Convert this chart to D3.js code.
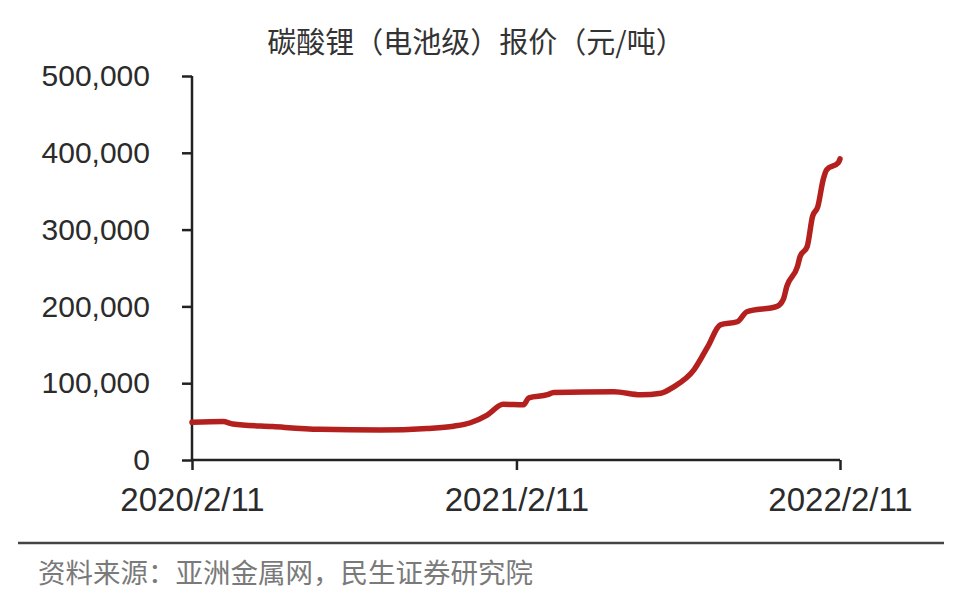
<!DOCTYPE html>
<html>
<head>
<meta charset="utf-8">
<script src="https://cdn.jsdelivr.net/npm/d3@7/dist/d3.min.js"></script>
<style>
  html, body { margin: 0; padding: 0; background: #fff; }
  svg { display: block; }
</style>
</head>
<body>
<svg id="chart" width="953" height="604"></svg>
<script>
// ---- Data ----
const titleText = "碳酸锂（电池级）报价（元/吨）";
const sourceText = "资料来源：亚洲金属网，民生证券研究院";
const dates = [
  "2020-02-11","2020-03-17","2020-03-28","2020-05-12","2020-07-04","2020-09-10",
  "2020-11-02","2020-12-02","2020-12-21","2021-01-09","2021-01-27","2021-02-19",
  "2021-02-25","2021-03-18","2021-03-25","2021-06-01","2021-07-01","2021-07-24",
  "2021-08-07","2021-08-30","2021-09-15","2021-09-29","2021-10-18","2021-10-29",
  "2021-12-02","2021-12-09","2021-12-13","2021-12-25","2021-12-28","2022-01-05",
  "2022-01-11","2022-01-17","2022-01-23","2022-01-27","2022-02-09","2022-02-11"
];
const prices = [
  49000, 50000, 47000, 43500, 40000, 39000,
  41000, 44000, 48500, 58500, 72500, 72000,
  81000, 85000, 88000, 89000, 85000, 87000,
  95000, 117000, 148000, 176000, 180000, 193000,
  200000, 209000, 226000, 252000, 265000, 278000,
  317000, 330000, 365000, 378000, 387000, 392000
];
const yTicks = [0, 100000, 200000, 300000, 400000, 500000];
const xTicks = ["2020-02-11", "2021-02-11", "2022-02-11"];

// ---- Chart ----
(function () {
const parse = d3.timeParse("%Y-%m-%d");
const data = dates.map((d, i) => ({ date: parse(d), value: prices[i] }));

const svg = d3.select("#chart");
const mLeft = 192, mRight = 840, mTop = 76, mBottom = 460;

const x = d3.scaleTime()
  .domain([parse("2020-02-11"), parse("2022-02-11")])
  .range([mLeft, mRight]);
const y = d3.scaleLinear().domain([0, 500000]).range([mBottom, mTop]);

// Title
svg.append("text")
  .attr("x", 476).attr("y", 53)
  .attr("text-anchor", "middle")
  .attr("font-family", "'Noto Sans CJK SC', sans-serif")
  .attr("font-size", 29)
  .attr("fill", "#333")
  .text(titleText);

// Y axis
const yAxis = d3.axisLeft(y)
  .tickValues(yTicks)
  .tickSize(10)
  .tickPadding(32)
  .tickFormat(d3.format(","));
const gy = svg.append("g").attr("transform", `translate(${mLeft},0)`).call(yAxis);
gy.select(".domain").attr("d", `M0,${mTop}H0V${mBottom}`);

// X axis
const xAxis = d3.axisBottom(x)
  .tickValues(xTicks.map(parse))
  .tickSize(10)
  .tickPadding(18)
  .tickFormat(d3.timeFormat("%Y/%-m/%-d"));
const gx = svg.append("g").attr("transform", `translate(0,${mBottom})`).call(xAxis);
gx.select(".domain").attr("d", `M${mLeft},0H${mRight}`);

[gy, gx].forEach(g => {
  g.selectAll(".domain, .tick line").attr("stroke", "#222").attr("stroke-width", 2.5);
  g.selectAll(".tick text")
    .attr("font-family", "'Liberation Sans', Arial, sans-serif")
    .attr("fill", "#2b2b2b");
});
gy.selectAll(".tick text").attr("font-size", 30);
gx.selectAll(".tick text").attr("font-size", 33);

// Line
const line = d3.line()
  .x(d => x(d.date))
  .y(d => y(d.value))
  .curve(d3.curveMonotoneX);
svg.append("path")
  .datum(data)
  .attr("fill", "none")
  .attr("stroke", "#b3201e")
  .attr("stroke-width", 5.5)
  .attr("stroke-linejoin", "round")
  .attr("stroke-linecap", "round")
  .attr("d", line);

// Separator
svg.append("line")
  .attr("x1", 18).attr("x2", 944)
  .attr("y1", 543).attr("y2", 543)
  .attr("stroke", "#444").attr("stroke-width", 2.5);

// Source
svg.append("text")
  .attr("x", 38).attr("y", 583)
  .attr("font-family", "'Noto Sans CJK SC', sans-serif")
  .attr("font-size", 27.5)
  .attr("fill", "#7a7a7a")
  .text(sourceText);
})();
</script>
</body>
</html>
